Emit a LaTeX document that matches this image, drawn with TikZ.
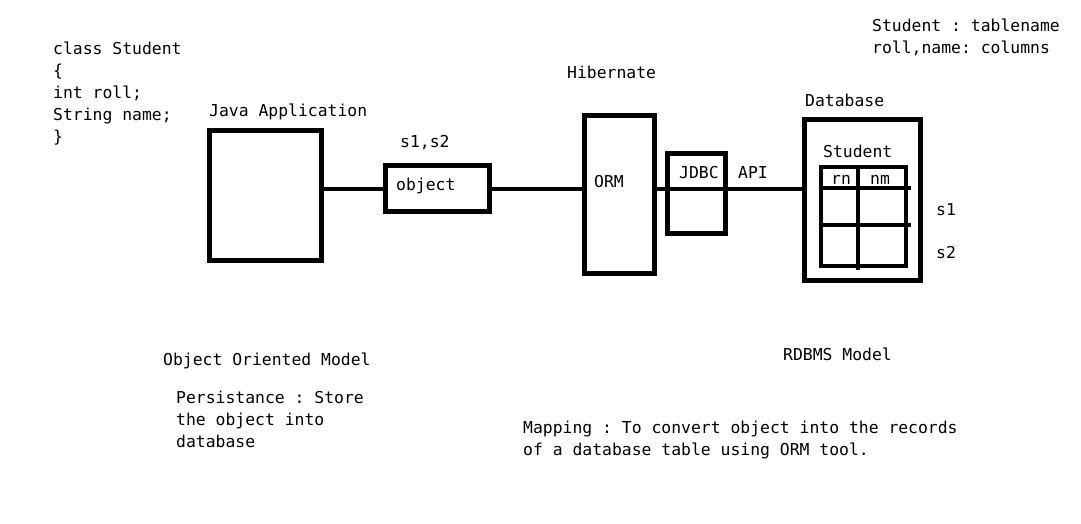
\documentclass[tikz,border=0pt]{standalone}
\usepackage{fontspec}
\setmonofont{DejaVu Sans Mono}
\begin{document}
\begin{tikzpicture}[x=1pt,y=-1pt,
        box/.style={draw,line width=5pt,inner sep=0pt},
        conn/.style={line width=4pt,line cap=round},
        grid line/.style={line width=4pt},
        txt/.style={anchor=base west,inner sep=0pt,align=left,
                    font=\ttfamily\fontsize{16.4}{22}\selectfont}]
                              % Page
                              \fill[white] (0,0) rectangle (1081,523);
                              \useasboundingbox (0,0) rectangle (1081,523);

                              % Boxes
                              \node[box,minimum width=112pt,minimum height=130pt] (app) at (265.5,195.5) {};
                              \node[box,minimum width=104pt,minimum height=46pt] (obj) at (437.5,188.5) {};
                              \node[box,minimum width=70pt,minimum height=158pt] (orm) at (619.5,194.5) {};
                              \node[box,minimum width=58pt,minimum height=80pt] (jdbc) at (696.5,193.5) {};
                              \node[box,minimum width=116pt,minimum height=161pt] (db) at (862.5,200) {};
                              \node[draw,line width=4pt,inner sep=0pt,minimum width=85pt,minimum height=99pt] (tbl) at (863.5,216.5) {};

                              % Table rows and columns
                              \draw[grid line] ([yshift=-23pt]tbl.north west) -- ([yshift=-23pt,xshift=3pt]tbl.north east);
                              \draw[grid line] ([yshift=-59.5pt]tbl.north west) -- ([yshift=-59.5pt,xshift=3pt]tbl.north east);
                              \draw[grid line] ([xshift=38.5pt]tbl.north west) -- ([xshift=38.5pt,yshift=-2pt]tbl.south west);

                              % Connectors
                              \draw[conn] (app.east |- obj.west) -- (obj.west);
                              \draw[conn] (obj.east) -- (orm.west |- obj.east);
                              \draw[conn] ([yshift=5.5pt]orm.east) -- ([yshift=11pt]db.west);

                              % Labels (multi-line ones sit on their last line)
                              \node[txt] (code) at (53,142) {class Student\\\{\\int roll;\\String name;\\\}};
                              \node[txt] (note) at (872,53) {Student : tablename\\roll,name: columns};
                              \node[txt] (hib) at (567,78) {Hibernate};
                              \node[txt] (dbname) at (805,106) {Database};
                              \node[txt] (appname) at (209,116) {Java Application};
                              \node[txt] (objname) at (400,147) {s1,s2};
                              \node[txt] (objtxt) at (396,190) {object};
                              \node[txt] (ormtxt) at (594,187) {ORM};
                              \node[txt] (jdbctxt) at (679,178) {JDBC};
                              \node[txt] (api) at (738,178) {API};
                              \node[txt] (tblname) at (823,157) {Student};
                              \node[txt] (rn) at (831,184) {rn};
                              \node[txt] (nm) at (870,184) {nm};
                              \node[txt] (s1) at (936,215) {s1};
                              \node[txt] (s2) at (936,258) {s2};
                              \node[txt] (oom) at (163,365) {Object Oriented Model};
                              \node[txt] (pers) at (176,447) {Persistance : Store\\the object into\\database};
                              \node[txt] (rdbms) at (783,360) {RDBMS Model};
                              \node[txt] (map) at (523,455) {Mapping : To convert object into the records\\of a database table using ORM tool.};
                        \end{tikzpicture}
\end{document}
